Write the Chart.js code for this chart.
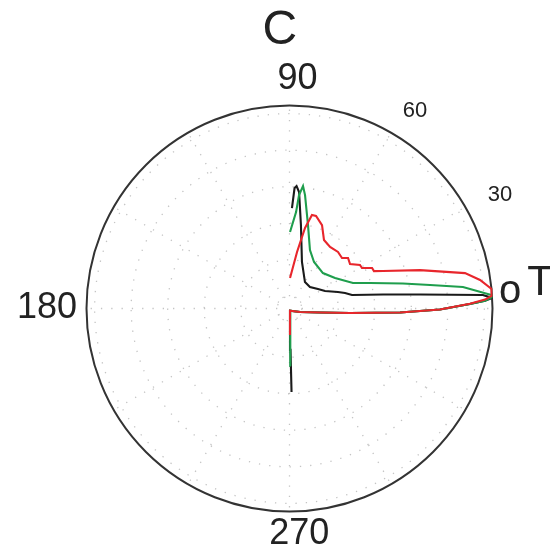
<!DOCTYPE html>
<html>
<head>
<meta charset="utf-8">
<script src="https://cdn.jsdelivr.net/npm/chart.js@4"></script>
<style>
  body { margin: 0; background: #fff; }
  canvas { display: block; }
</style>
</head>
<body>
<canvas id="polarChart" width="550" height="551"></canvas>
<script>
// polar data: angle in degrees, radius as fraction of the outer circle
const blackAngle = [271.4, 271.4, -77, -18.4, -7.5, -4.25, -2.07, -0.4, 1.43, 2.3, 3.0,
    4.0, 6.1, 8.5, 12.2, 15.6, 18.8, 26.2, 34.4, 46.4, 59.7, 75, 82.2, 85.3, 86.7, 87.6, 88.6];
const blackRadius = [0.411, 0.204, 0.011, 0.055, 0.152, 0.299, 0.545, 0.741, 0.889, 0.964, 0.999,
    0.955, 0.647, 0.466, 0.315, 0.284, 0.252, 0.195, 0.17, 0.146, 0.151, 0.237, 0.415, 0.576, 0.604, 0.594, 0.495];

const greenAngle = [271, 272.7, -77, -18.4, -7.5, -4.25, -2.07, -0.4, 1.43, 2.3, 3.2,
    3.8, 7.06, 9.5, 12.4, 17.6, 21.9, 33.8, 46.7, 62.2, 70.7, 77.5, 82.2, 83.7, 85.2, 86.1, 89.6];
const greenRadius = [0.283, 0.106, 0.011, 0.055, 0.152, 0.299, 0.545, 0.741, 0.889, 0.964, 0.999,
    0.997, 0.861, 0.702, 0.572, 0.416, 0.337, 0.27, 0.24, 0.259, 0.305, 0.421, 0.564, 0.607, 0.561, 0.476, 0.377];

const redAngle = [271, -77, -18.4, -7.5, -4.25, -2.07, -0.4, 1.5, 2.6, 3.6,
    5.5, 8.5, 11.4, 16.4, 21.9, 23.9, 26.1, 29.2, 31.7, 36.3, 40.8, 43.9,
    49.4, 56.6, 63.3, 68.7, 74, 76.5, 79.1, 82.4, 89];
const redRadius = [0.131, 0.011, 0.055, 0.152, 0.299, 0.545, 0.741, 0.889, 0.964, 0.999,
    1.0, 0.949, 0.882, 0.67, 0.496, 0.455, 0.453, 0.409, 0.408, 0.37, 0.381, 0.359,
    0.367, 0.363, 0.378, 0.441, 0.474, 0.474, 0.404, 0.281, 0.15];

// grid
const gridRadii = [0.06, 0.24, 0.42, 0.6, 0.78, 0.96];
const spokeAngles = [0, 30, 60, 90, 120, 150, 180, 210, 240, 270, 300, 330];

// text around the circle: [text, angle, radius, font size]
const angleLabels = [
    ["90", 88, 1.133, 36],
    ["60", 57.6, 1.153, 22],
    ["30", 28.3, 1.178, 22],
    ["180", 180, 1.195, 36],
    ["270", 272.5, 1.11, 36]
];
const axisLabels = [
    ["C", 92, 1.37, 48],
    ["o", 4.3, 1.09, 40],
    ["T", 5.7, 1.24, 42]
];

function toXY(angles, radii) {
    return angles.map(function (a, i) {
        const t = a * Math.PI / 180;
        return { x: radii[i] * Math.cos(t), y: radii[i] * Math.sin(t) };
    });
}

const polarFrame = {
    id: "polarFrame",
    beforeDatasetsDraw(chart) {
        const ctx = chart.ctx;
        const xs = chart.scales.x, ys = chart.scales.y;
        const cx = xs.getPixelForValue(0), cy = ys.getPixelForValue(0);
        const R = xs.getPixelForValue(1) - cx;
        ctx.save();
        ctx.strokeStyle = "#c4c4c4";
        ctx.lineWidth = 1.3;
        ctx.setLineDash([1.3, 9]);
        gridRadii.forEach(function (r) {
            ctx.beginPath();
            ctx.arc(cx, cy, r * R, 0, Math.PI * 2);
            ctx.stroke();
        });
        spokeAngles.forEach(function (a) {
            const t = a * Math.PI / 180;
            ctx.beginPath();
            ctx.moveTo(cx + 0.06 * R * Math.cos(t), cy - 0.06 * R * Math.sin(t));
            ctx.lineTo(cx + R * Math.cos(t), cy - R * Math.sin(t));
            ctx.stroke();
        });
        ctx.setLineDash([]);
        ctx.strokeStyle = "#333";
        ctx.lineWidth = 2;
        ctx.beginPath();
        ctx.arc(cx, cy, R, 0, Math.PI * 2);
        ctx.stroke();

        ctx.fillStyle = "#222";
        ctx.textAlign = "center";
        ctx.textBaseline = "middle";
        angleLabels.concat(axisLabels).forEach(function (l) {
            const t = l[1] * Math.PI / 180;
            ctx.font = l[3] + "px 'Liberation Sans', Arial, sans-serif";
            ctx.fillText(l[0], cx + l[2] * R * Math.cos(t), cy - l[2] * R * Math.sin(t));
        });
        ctx.restore();
    }
};

new Chart(document.getElementById("polarChart").getContext("2d"), {
    type: "scatter",
    data: {
        datasets: [
            { data: toXY(redAngle, redRadius), borderColor: "#e8262c", order: 1 },
            { data: toXY(greenAngle, greenRadius), borderColor: "#1f9e4d", order: 2 },
            { data: toXY(blackAngle, blackRadius), borderColor: "#1a1a1a", order: 3 }
        ]
    },
    options: {
        responsive: false,
        animation: false,
        devicePixelRatio: 1,
        showLine: true,
        elements: {
            point: { radius: 0 },
            line: { borderWidth: 2.1, tension: 0 }
        },
        layout: { padding: { left: 86.5, right: 57.5, top: 105.5, bottom: 39.5 } },
        scales: {
            x: { type: "linear", min: -1, max: 1, display: false },
            y: { type: "linear", min: -1, max: 1, display: false }
        },
        plugins: { legend: { display: false }, tooltip: { enabled: false } }
    },
    plugins: [polarFrame]
});
</script>
</body>
</html>
